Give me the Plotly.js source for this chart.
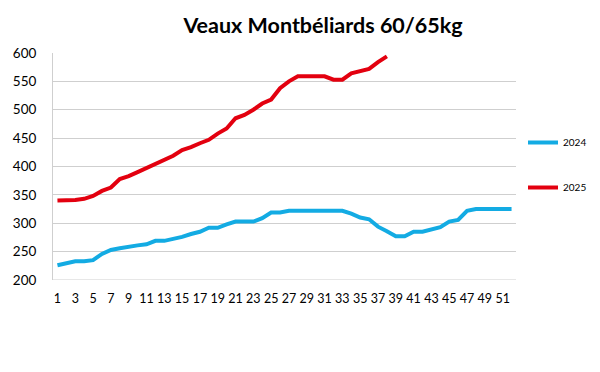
<!DOCTYPE html>
<html>
<head>
<meta charset="utf-8">
<script src="https://cdn.plot.ly/plotly-3.0.1.min.js"></script>
<style>html,body{margin:0;padding:0;background:#fff}#chart{width:600px;height:372px}</style>
</head>
<body>
<div id="chart"></div>
<script>
const weeks = Array.from({length: 52}, (_, i) => i + 1);
const tickWeeks = weeks.filter(w => w % 2 === 1);
const values2024 = [226,229,233,233,235,246,253,256,259,261,263,269,269,272,276,281,285,292,292,298,303,303,303,309,319,319,322,322,322,322,322,322,322,317,310,307,294,286,277,277,285,285,289,293,303,306,322,325,325,325,325,325];
const values2025 = [340,340,341,343,348,357,363,378,383,390,397,405,411,419,429,434,441,447,458,467,485,491,500,511,518,538,550,559,559,559,559,553,553,564,568,572,584,594];
const seriesNames = ["2024", "2025"];
const chartTitle = "Veaux Montbéliards 60/65kg";

const font = "Lato, 'Open Sans', sans-serif";
const traces = [
  {x: weeks.slice(0, values2024.length), y: values2024, name: seriesNames[0], type: "scatter", mode: "lines",
   line: {color: "#13ABE3", width: 4}, legendgroup: "a"},
  {x: weeks.slice(0, values2025.length), y: values2025, name: seriesNames[1], type: "scatter", mode: "lines",
   line: {color: "#E3000F", width: 4}, legendgroup: "b"}
];
const layout = {
  width: 600, height: 372,
  margin: {l: 53, r: 84, t: 53, b: 92},
  paper_bgcolor: "#fff", plot_bgcolor: "#fff",
  font: {family: font, color: "#000"},
  title: {text: "<b>" + chartTitle + "</b>", font: {family: font, size: 21.5, color: "#000"},
          x: 323/600, xanchor: "center", y: 1 - 25/372, yanchor: "middle", xref: "container", yref: "container"},
  xaxis: {range: [0.5, 52.5], tickvals: tickWeeks, ticktext: tickWeeks.map(String),
          showgrid: false, zeroline: false, showline: false, ticks: "",
          tickfont: {size: 12.5, family: font}, ticklabelstandoff: 9, fixedrange: true},
  yaxis: {range: [200, 600], dtick: 50, showgrid: true, gridcolor: "#cfcfcf", gridwidth: 1,
          zeroline: false, showline: true, linecolor: "#cfcfcf", linewidth: 1, ticks: "",
          tickfont: {size: 13.5, family: font}, ticklabelstandoff: 13, fixedrange: true},
  showlegend: true,
  legend: {x: 523/600, xref: "container", y: 1 - 128/372, yref: "container", yanchor: "top", xanchor: "left",
           font: {size: 10, family: font}, tracegroupgap: 26, traceorder: "grouped", bgcolor: "rgba(0,0,0,0)"},
  shapes: [{type: "line", xref: "paper", yref: "y", x0: 0, x1: 1, y0: 200, y1: 200, line: {color: "#cfcfcf", width: 1}}]
};
Plotly.newPlot("chart", traces, layout, {displayModeBar: false, staticPlot: true});
</script>
</body>
</html>
